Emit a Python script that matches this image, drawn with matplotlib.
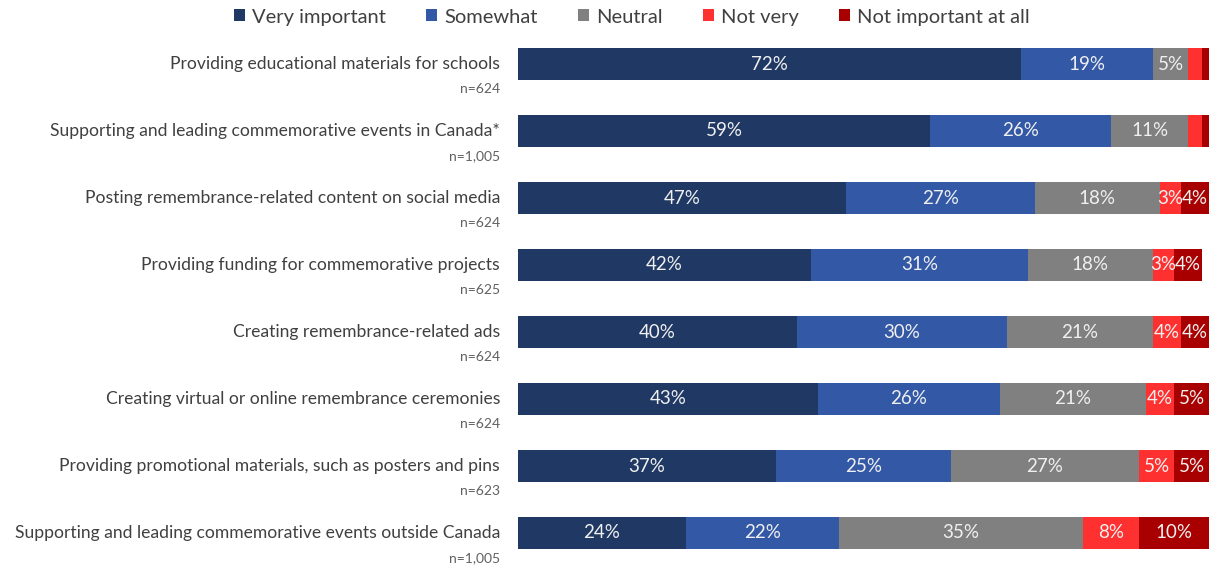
import matplotlib
matplotlib.use("Agg")
import matplotlib.pyplot as plt
import numpy as np

categories = [
    "Providing educational materials for schools",
    "Supporting and leading commemorative events in Canada*",
    "Posting remembrance-related content on social media",
    "Providing funding for commemorative projects",
    "Creating remembrance-related ads",
    "Creating virtual or online remembrance ceremonies",
    "Providing promotional materials, such as posters and pins",
    "Supporting and leading commemorative events outside Canada",
]
sample_sizes = ["n=624", "n=1,005", "n=624", "n=625", "n=624", "n=624", "n=623", "n=1,005"]

series_names = ["Very important", "Somewhat", "Neutral", "Not very", "Not important at all"]
very_important = [72, 59, 47, 42, 40, 43, 37, 24]
somewhat = [19, 26, 27, 31, 30, 26, 25, 22]
neutral = [5, 11, 18, 18, 21, 21, 27, 35]
not_very = [2, 2, 3, 3, 4, 4, 5, 8]
not_at_all = [1, 1, 4, 4, 4, 5, 5, 10]
# which segments carry a value label
show_label = [
    [True] * 8,
    [True] * 8,
    [True] * 8,
    [False, False, True, True, True, True, True, True],
    [False, False, True, True, True, True, True, True],
]

colors = ["#1F3864", "#3258A6", "#808080", "#FF3030", "#A80000"]

plt.rcParams['font.family'] = ['Lato', 'DejaVu Sans']

fig = plt.figure(figsize=(12.15, 5.67), dpi=100)
ax = fig.add_axes([518 / 1215, 0.5 / 567, (1209 - 518) / 1215, (566.5 - 30.5) / 567])

series = [very_important, somewhat, neutral, not_very, not_at_all]
y = np.arange(len(categories))
left = np.zeros(len(categories))
handles = []
for si, (vals, col, name) in enumerate(zip(series, colors, series_names)):
    vals = np.array(vals, dtype=float)
    h = ax.barh(y, vals, left=left, height=0.478, color=col, label=name, edgecolor="none")
    handles.append(h)
    for i, v in enumerate(vals):
        if show_label[si][i]:
            ax.text(left[i] + v / 2, y[i], f"{int(v)}%", ha="center", va="center",
                    color="#F0F0F0", fontsize=13.5)
    left += vals

ax.set_xlim(0, 99)
ax.set_ylim(7.5, -0.5)
ax.axis("off")

px_per_unit = (1209 - 518) / 99
for i, (cat, n) in enumerate(zip(categories, sample_sizes)):
    ax.text(-18 / px_per_unit, y[i], cat, ha="right", va="center", fontsize=12.6, color="#404040")
    ax.text(-18 / px_per_unit, y[i] + 25 / 67, n, ha="right", va="center", fontsize=10,
            color="#606060")

fig.legend(handles=handles, labels=series_names, loc="center", bbox_to_anchor=(0.52, 0.97),
           ncol=5, frameon=False, fontsize=14.5, handlelength=0.55, handleheight=0.55,
           handletextpad=0.35, columnspacing=2.0, labelcolor="#404040")

fig.savefig("out.png", dpi=100)
